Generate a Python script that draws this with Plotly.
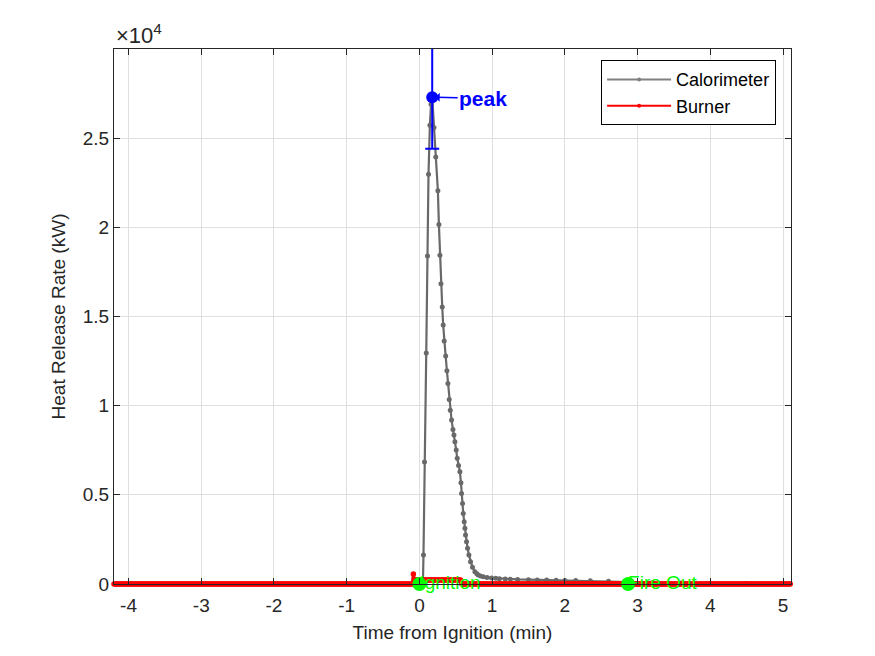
import numpy as np
import plotly.graph_objects as go

# ---------------- data ----------------
cal_time = [-4.2, -3.0, -2.0, -1.0, 0.0, 0.048, 0.056, 0.070, 0.094, 0.111, 0.125, 0.144, 0.160,
            0.176, 0.200, 0.225, 0.254, 0.268, 0.282, 0.296, 0.314, 0.327, 0.341, 0.361,
            0.378, 0.392, 0.410, 0.424, 0.442, 0.461, 0.475, 0.488, 0.506, 0.520, 0.538,
            0.557, 0.571, 0.579, 0.593, 0.603, 0.616, 0.626, 0.634, 0.648, 0.662, 0.681,
            0.703, 0.730, 0.763, 0.790, 0.809, 0.840, 0.878, 0.930, 0.992, 1.05, 1.1, 1.18,
            1.25, 1.35, 1.5, 1.62, 1.75, 1.88, 2.0, 2.15, 2.35, 2.6, 2.87, 3.2, 3.6,
            4.0, 4.5, 5.11]
cal_kw = [0, 0, 0, 0, 0, 0, 1630, 6840, 12950, 18390, 22980, 25730, 26900,
          27300, 25600, 23950, 22050, 20160, 18440, 16830, 15530, 14520, 13620, 12780,
          11960, 11250, 10350, 9750, 9190, 8670, 8350, 7980, 7510, 7050, 6650,
          6300, 5680, 5080, 4520, 3960, 3490, 3120, 2750, 2370, 2000, 1630,
          1250, 940, 690, 580, 500, 450, 410, 370, 340, 320, 300, 285,
          270, 255, 240, 230, 220, 210, 200, 195, 185, 150, 110, 70, 50,
          35, 25, 20]

# burner: sampled once per second, zero except the short pilot flame at ignition
burner_time = np.round(np.arange(-4.2, 5.115, 1 / 60), 4)
burner_kw = np.zeros_like(burner_time)
burner_kw[(burner_time >= -0.09) & (burner_time < -0.075)] = 560
burner_kw[(burner_time >= -0.075) & (burner_time <= 0.57)] = 230

peak_time = [0.176]
peak_kw = [27300]
peak_err = [2900]

event_time = [0.0, 2.87]
event_kw = [0, 0]
event_labels = ["Ignition", "Fire Out"]

x_ticks = [-4, -3, -2, -1, 0, 1, 2, 3, 4, 5]
y_ticks = [0, 5000, 10000, 15000, 20000, 25000]
y_tick_text = ["0", "0.5", "1", "1.5", "2", "2.5"]

# ---------------- figure ----------------
FONT = "Liberation Sans, Arial, sans-serif"
TXT = "rgb(38,38,38)"
GREY = "rgb(105,105,105)"
GREEN = "rgb(0,255,0)"
FS = 19

fig = go.Figure()

fig.add_trace(go.Scatter(
    x=cal_time, y=cal_kw, mode="lines+markers", showlegend=False,
    line=dict(color=GREY, width=2.2), marker=dict(color=GREY, size=5)))

fig.add_trace(go.Scatter(
    x=burner_time, y=burner_kw, mode="lines+markers", showlegend=False,
    line=dict(color="red", width=3), marker=dict(color="red", size=5.5),
    cliponaxis=False))

# legend entries
fig.add_trace(go.Scatter(
    x=[None], y=[None], mode="lines+markers", name="Calorimeter",
    line=dict(color="rgb(128,128,128)", width=2), marker=dict(color="rgb(128,128,128)", size=4)))
fig.add_trace(go.Scatter(
    x=[None], y=[None], mode="lines+markers", name="Burner",
    line=dict(color="red", width=2), marker=dict(color="red", size=4)))

# peak with error bar
fig.add_trace(go.Scatter(
    x=peak_time, y=peak_kw, mode="markers", showlegend=False,
    marker=dict(color="blue", size=12),
    error_y=dict(type="data", array=peak_err, color="blue", thickness=2, width=7)))

# event labels (under the markers, as in the reference)
fig.add_trace(go.Scatter(
    x=event_time, y=event_kw, mode="text", text=event_labels, textposition="middle right",
    showlegend=False, cliponaxis=False,
    textfont=dict(family=FONT, size=FS, color=GREEN)))

# event markers
fig.add_trace(go.Scatter(
    x=event_time, y=event_kw, mode="markers", showlegend=False,
    marker=dict(color=GREEN, size=14), cliponaxis=False))

fig.add_annotation(x=peak_time[0], y=peak_kw[0], text="<b>peak</b>", showarrow=True,
                   ax=51, ay=1, arrowhead=1, arrowsize=1, arrowwidth=1.5, arrowcolor="blue",
                   standoff=3, font=dict(family=FONT, size=21, color="blue"))

fig.add_annotation(xref="paper", yref="paper", x=0, y=1, xanchor="left", yanchor="bottom",
                   yshift=-1, text="×10<sup>4</sup>", showarrow=False,
                   font=dict(family=FONT, size=22, color=TXT))

axis_common = dict(showline=True, linecolor=TXT, linewidth=1, mirror="ticks",
                   ticks="inside", ticklen=6, tickcolor=TXT, tickwidth=1,
                   showgrid=True, gridcolor="rgb(223,223,223)", gridwidth=1,
                   zeroline=False, tickfont=dict(family=FONT, size=FS, color=TXT))

fig.update_xaxes(range=[-4.2, 5.11], tickvals=x_ticks, ticktext=[str(v) for v in x_ticks],
                 ticklabelstandoff=4,
                 title=dict(text="Time from Ignition (min)", standoff=10,
                            font=dict(family=FONT, size=FS, color=TXT)),
                 **axis_common)
fig.update_yaxes(range=[0, 30000], tickvals=y_ticks, ticktext=y_tick_text,
                 title=dict(text="Heat Release Rate (kW)", standoff=12,
                            font=dict(family=FONT, size=FS, color=TXT)),
                 **axis_common)

fig.update_layout(
    width=875, height=656, plot_bgcolor="white", paper_bgcolor="white",
    margin=dict(l=114, r=84, t=49, b=72, autoexpand=False),
    font=dict(family=FONT, color=TXT),
    legend=dict(x=0.978, y=0.979, xanchor="right", yanchor="top",
                bordercolor="black", borderwidth=1, bgcolor="white",
                itemwidth=64, font=dict(family=FONT, size=18, color="black"),
                tracegroupgap=0),
)

fig.write_html("out.html")
